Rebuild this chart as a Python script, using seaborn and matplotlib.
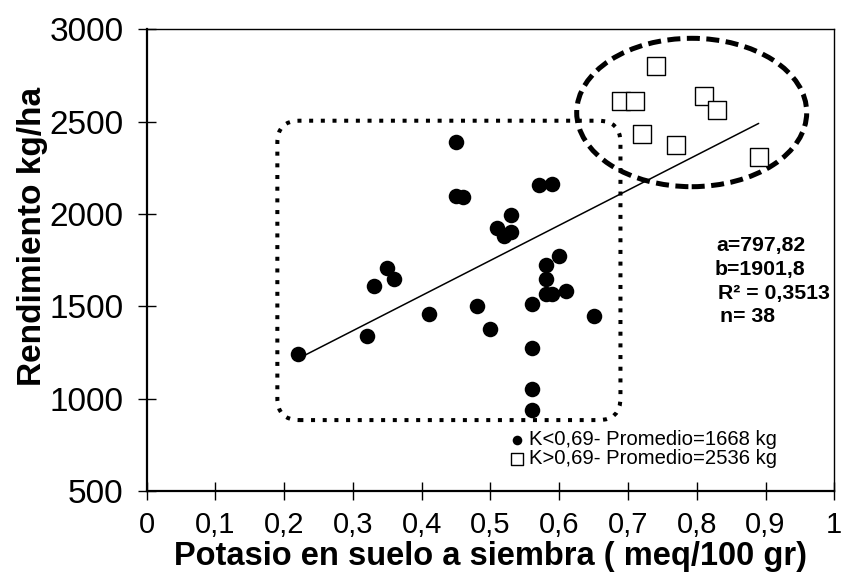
import matplotlib
matplotlib.use("Agg")
import matplotlib.pyplot as plt
import seaborn as sns
import numpy as np
from matplotlib.patches import Ellipse, FancyBboxPatch

# ---- data ----
k_low = [0.22, 0.45, 0.45, 0.46, 0.57, 0.59, 0.53, 0.51, 0.53, 0.52,
         0.35, 0.36, 0.33, 0.32, 0.41, 0.48, 0.50, 0.56, 0.60, 0.58,
         0.58, 0.58, 0.59, 0.61, 0.65, 0.56, 0.56, 0.56]
y_low = [1240, 2390, 2100, 2090, 2155, 2165, 1995, 1925, 1900, 1880,
         1710, 1650, 1610, 1340, 1460, 1500, 1375, 1515, 1770, 1725,
         1650, 1565, 1565, 1585, 1450, 1275, 1050, 940]
k_high = [0.74, 0.69, 0.71, 0.81, 0.83, 0.72, 0.77, 0.89]
y_high = [2800, 2613, 2613, 2640, 2563, 2433, 2374, 2307]

coef_a = 797.82
coef_b = 1901.8

x_ticks = [0, 0.1, 0.2, 0.3, 0.4, 0.5, 0.6, 0.7, 0.8, 0.9, 1.0]
x_ticklabels = ["0", "0,1", "0,2", "0,3", "0,4", "0,5", "0,6", "0,7", "0,8", "0,9", "1"]
y_ticks = [500, 1000, 1500, 2000, 2500, 3000]
y_ticklabels = ["500", "1000", "1500", "2000", "2500", "3000"]
legend_labels = ["K<0,69- Promedio=1668 kg", "K>0,69- Promedio=2536 kg"]
stats_lines = ["a=797,82", "b=1901,8", "R² = 0,3513", "n= 38"]
x_label = "Potasio en suelo a siembra ( meq/100 gr)"
y_label = "Rendimiento kg/ha"

# ---- figure ----
sns.set_theme(style="white")
plt.rcParams['font.family'] = ['Liberation Sans', 'DejaVu Sans']
plt.rcParams['text.color'] = 'black'
plt.rcParams['axes.labelcolor'] = 'black'

W, H = 846, 576
fig = plt.figure(figsize=(W / 100, H / 100), dpi=100)
ax = fig.add_axes([146.7 / W, 1 - 491 / H, (834.3 - 146.7) / W, (491 - 29.3) / H])

sns.scatterplot(x=k_low, y=y_low, marker='o', s=125, color='black',
                edgecolor='black', linewidth=0, ax=ax, label=legend_labels[0], zorder=4)
sns.scatterplot(x=k_high, y=y_high, marker='s', s=175, color='white',
                edgecolor='black', linewidth=1.0, ax=ax, label=legend_labels[1], zorder=4)

all_k = np.array(k_low + k_high)
xs = np.array([all_k.min(), all_k.max()])
sns.lineplot(x=xs, y=coef_a + coef_b * xs, color='black', linewidth=1.1,
             ax=ax, legend=False, zorder=3)

ax.set_xlim(0, 1)
ax.set_ylim(500, 3000)
ax.set_xticks(x_ticks)
ax.set_xticklabels(x_ticklabels)
ax.set_yticks(y_ticks)
ax.set_yticklabels(y_ticklabels)
ax.tick_params(direction='inout', length=13, width=1, colors='black',
               left=True, bottom=True)
ax.tick_params(axis='y', pad=10, labelsize=24)
ax.tick_params(axis='x', pad=8, labelsize=21)

for side in ['left', 'bottom']:
    ax.spines[side].set_linewidth(1.6)
    ax.spines[side].set_color('black')
for side in ['top', 'right']:
    ax.spines[side].set_linewidth(1.0)
    ax.spines[side].set_color('black')

ax.set_xlabel(x_label, fontsize=23.5, fontweight='bold', labelpad=1, color='black')
ax.set_ylabel(y_label, fontsize=24, fontweight='bold', labelpad=1, color='black')
ax.yaxis.label.set_y(0.552)

# dotted rounded box (axes coords)
ax_w_px, ax_h_px = 834.3 - 146.7, 491 - 29.3
bx0, bx1 = 0.19, 0.689
by0, by1 = (884 - 500) / 2500, (2505 - 500) / 2500
box = FancyBboxPatch((bx0, by0), bx1 - bx0, by1 - by0,
                     boxstyle="round,pad=0,rounding_size=%f" % (22 / ax_w_px),
                     mutation_aspect=ax_w_px / ax_h_px,
                     transform=ax.transAxes, fill=False, edgecolor='black',
                     linewidth=2.9, linestyle=(0, (1, 1.9)), zorder=2)
ax.add_patch(box)

# dashed ellipse (data coords)
ell = Ellipse((0.7926, 2549.5), 0.3345, 803.5, fill=False, edgecolor='black',
              linewidth=3.6, linestyle=(0, (2.6, 1.3)), zorder=2)
ax.add_patch(ell)

# stats block
stat_x = [716.7, 715.0, 718.3, 720.0]
stat_y = [245.7, 270.0, 294.0, 316.7]
for t, sx, sy in zip(stats_lines, stat_x, stat_y):
    fig.text(sx / W, 1 - sy / H, t, fontsize=15.3, fontweight='bold',
             ha='left', va='center', color='black')

leg = ax.legend(loc='upper left', bbox_to_anchor=((511 - 146.7) / ax_w_px, 1 - (430 - 29.3) / ax_h_px),
                frameon=False, fontsize=14.6, markerscale=0.62, handlelength=0.6,
                handletextpad=0.3, labelspacing=0.0, borderpad=0, borderaxespad=0)
for txt in leg.get_texts():
    txt.set_color('black')

fig.savefig("out.png", dpi=100, facecolor='white')
